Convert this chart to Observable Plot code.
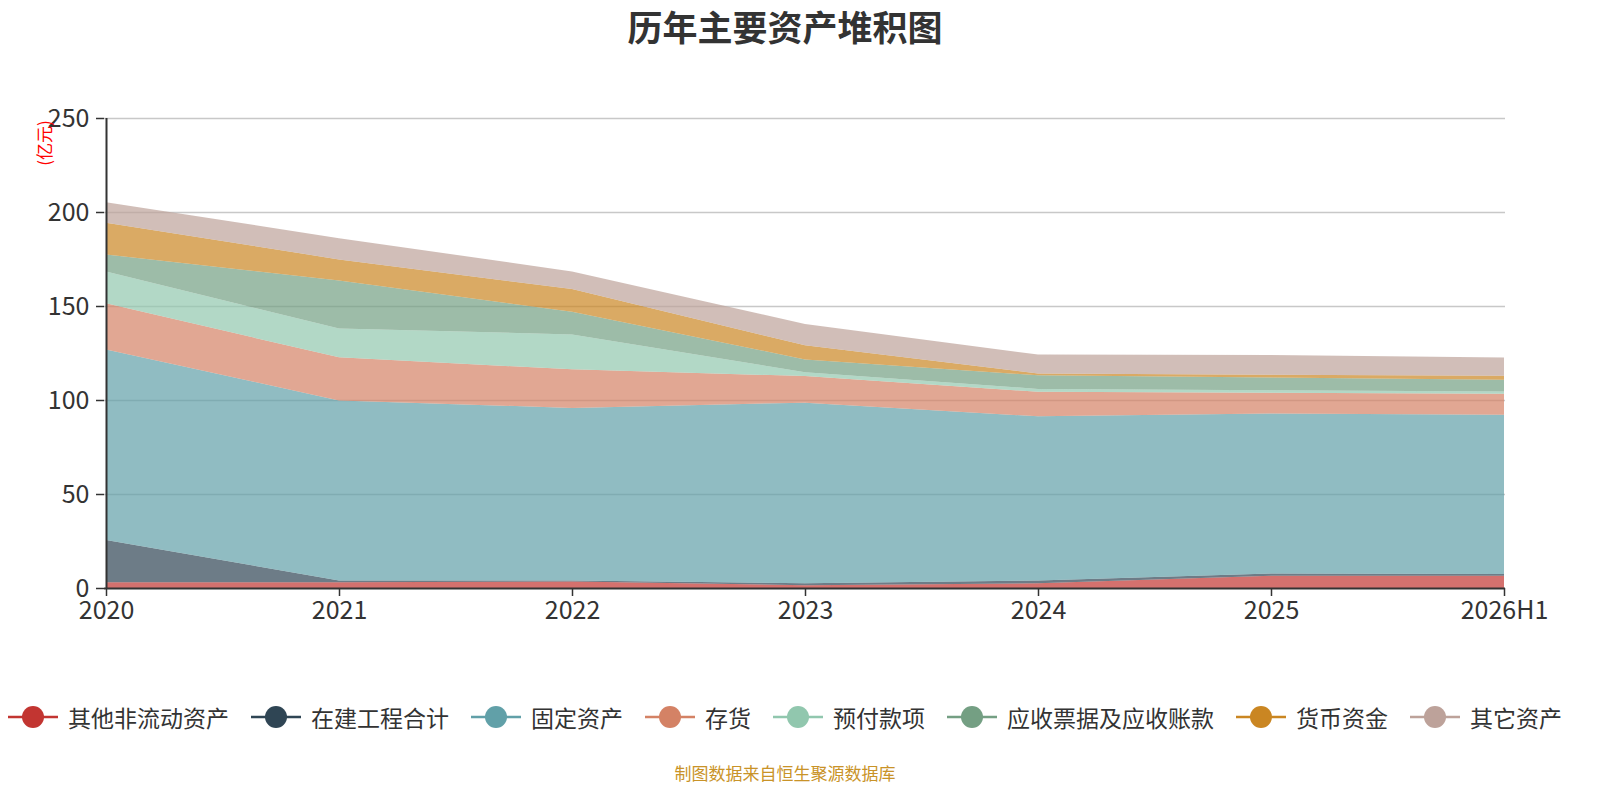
<!DOCTYPE html>
<html>
<head>
<meta charset="utf-8">
<script src="https://cdn.jsdelivr.net/npm/d3@7"></script>
<script src="https://cdn.jsdelivr.net/npm/@observablehq/plot@0.6"></script>
<style>
  body { margin: 0; background: #fff; font-family: "Noto Sans CJK SC", "Noto Sans", sans-serif; }
  #wrap { position: relative; width: 1600px; height: 800px; overflow: hidden; }
  #title { position: absolute; top: 8px; left: 0; width: 1570px; text-align: center; font-size: 35px; line-height: 1; font-weight: bold; color: #333; }
  #chart { position: absolute; top: 50px; left: 0; }
  #unit { position: absolute; left: 43px; top: 143px; transform: translate(-50%, -50%) rotate(-90deg); color: #ff0000; font-size: 17px; white-space: nowrap; }
  #legend { position: absolute; top: 700px; left: 8px; display: flex; align-items: center; gap: 22px; white-space: nowrap; }
  .item { display: flex; align-items: center; gap: 10px; font-size: 23px; color: #333; }
  #caption { position: absolute; top: 760px; left: 0; width: 1570px; text-align: center; font-size: 17px; color: #c99328; }
</style>
</head>
<body>
<div id="wrap">
  <div id="title">历年主要资产堆积图</div>
  <div id="chart"></div>
  <div id="unit">(亿元)</div>
  <div id="legend"></div>
  <div id="caption">制图数据来自恒生聚源数据库</div>
</div>
<script>
const years = ["2020", "2021", "2022", "2023", "2024", "2025", "2026H1"];
const seriesNames = ["其他非流动资产", "在建工程合计", "固定资产", "存货", "预付款项", "应收票据及应收账款", "货币资金", "其它资产"];
const colors = ["#c23531", "#2f4554", "#61a0a8", "#d48265", "#91c7ae", "#749f83", "#ca8622", "#bda29a"];

const otherNonCurrent = [3.0, 3.0, 3.5, 1.5, 2.5, 6.5, 6.5];
const construction    = [22.5, 1.0, 0.5, 1.0, 1.5, 1.2, 1.0];
const fixedAssets     = [101.3, 95.8, 91.8, 96.1, 87.3, 85.1, 84.7];
const inventory       = [24.6, 22.9, 20.5, 14.1, 13.1, 11.0, 11.1];
const prepayments     = [17.0, 15.3, 18.6, 2.1, 1.5, 1.4, 1.2];
const receivables     = [9.0, 25.5, 12.0, 6.8, 7.2, 6.8, 6.3];
const cash            = [16.9, 11.3, 12.1, 7.5, 1.0, 1.4, 2.1];
const otherAssets     = [10.9, 11.3, 9.4, 11.3, 10.1, 10.5, 9.7];

const yTicks = [0, 50, 100, 150, 200, 250];

const seriesValues = [otherNonCurrent, construction, fixedAssets, inventory, prepayments, receivables, cash, otherAssets];
const data = [];
seriesNames.forEach((name, i) => {
  years.forEach((yr, j) => data.push({ series: name, year: yr, value: seriesValues[i][j] }));
});

const chart = Plot.plot({
  width: 1600,
  height: 600,
  marginTop: 68,
  marginBottom: 62,
  marginLeft: 104,
  marginRight: 95,
  style: { fontFamily: "'Noto Sans CJK SC', 'Noto Sans', sans-serif", color: "#333", background: "#fff" },
  x: { type: "point", domain: years, padding: 0 },
  y: { domain: [0, 250] },
  color: { domain: seriesNames, range: colors },
  marks: [
    Plot.gridY(yTicks.filter(d => d > 0), { stroke: "#c8c8c8", strokeOpacity: 1, strokeWidth: 1.5 }),
    Plot.areaY(data, { x: "year", y: "value", z: "series", fill: "series", fillOpacity: 0.7, curve: "linear" }),
    Plot.axisY(yTicks, { tickSize: 8, tickPadding: 7, fontSize: 25, stroke: "#333", strokeWidth: 1.5, fill: "#333", label: null }),
    Plot.axisX(years, { tickSize: 8, tickPadding: 5, fontSize: 25, stroke: "#333", strokeWidth: 1.5, fill: "#333", label: null }),
    Plot.ruleY([0], { stroke: "#333", strokeWidth: 2 }),
    Plot.ruleX([years[0]], { stroke: "#333", strokeWidth: 2 })
  ]
});
document.getElementById("chart").appendChild(chart);

const legend = document.getElementById("legend");
seriesNames.forEach((name, i) => {
  const item = document.createElement("div");
  item.className = "item";
  item.innerHTML = `<svg width="50" height="26"><line x1="0" y1="13" x2="50" y2="13" stroke="${colors[i]}" stroke-width="2.5"/><circle cx="25" cy="13" r="11" fill="${colors[i]}"/></svg><span>${name}</span>`;
  legend.appendChild(item);
});
</script>
</body>
</html>
